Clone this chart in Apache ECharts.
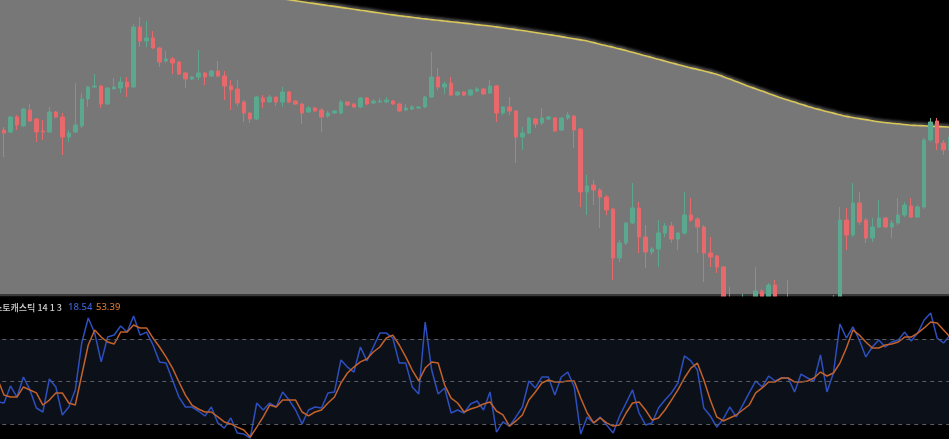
<!DOCTYPE html>
<html>
<head>
<meta charset="utf-8">
<script src="https://cdn.jsdelivr.net/npm/echarts@6/dist/echarts.min.js"></script>
<style>
html,body{margin:0;padding:0;background:#000;}
#c{width:949px;height:439px;}
</style>
</head>
<body>
<div id="c"></div>
<script>
// candles: [open, close, low, high]
const candles = [
[172,169,165,176],
[170,167,143,173],[168,183,167,184],[183,175,170,185],[174,191,173,192],[190,179,178,196],
[181,168,158,182],[169,168,160,180],[168,188,167,193],[188,183,182,189],[183,163,145,187],
[163,167,158,170],[168,175,167,217],[174,201,172,207],[201,213,193,214],[213,214,212,226],
[214,196,192,215],[196,212,195,213],[211,213,211,222],[212,218,207,223],[218,213,203,223],
[213,273,212,276],[273,259,253,283],[259,262,253,279],[262,252,251,269],[252,238,233,253],
[239,241,237,249],[241,237,226,243],[238,226,225,239],[227,221,212,228],[221,223,220,224],
[223,227,220,250],[227,223,215,228],[224,229,223,230],[229,224,223,239],[224,214,200,229],
[214,210,190,220],[211,197,194,220],[198,187,178,200],[187,181,177,188],[181,203,180,204],
[202,198,192,205],[198,203,197,205],[203,198,194,203],[198,208,193,213],[208,198,197,209],
[199,196,195,200],[196,187,176,197],[188,192,187,194],[192,189,188,193],[190,183,168,192],
[184,187,182,189],[187,189,186,190],[187,198,186,200],[198,195,194,199],[196,193,192,197],
[193,202,192,203],[202,196,195,203],[197,199,196,201],[198,199,197,202],[198,200,197,203],
[199,196,195,200],[196,189,188,197],[190,192,189,196],[191,193,190,195],[192,193,191,194],
[193,203,192,204],[203,223,202,248],[223,213,210,232],[213,216,206,218],[217,205,204,223],
[205,208,204,209],[208,205,204,209],[205,210,204,211],[209,211,208,213],[211,206,205,212],
[207,214,206,220],[214,187,178,215],[187,193,185,194],[193,189,185,203],[189,163,137,190],
[163,167,150,173],[167,182,166,183],[181,176,172,182],[177,182,175,192],[181,183,180,184],
[182,169,168,183],[170,182,169,183],[182,185,180,188],[184,170,152,185],[171,108,93,172],
[108,114,85,125],[115,110,95,120],[110,103,72,112],[103,90,85,105],[91,42,20,92],
[42,57,38,60],[57,77,55,78],[77,92,76,117],[92,63,47,98],[63,48,32,75],
[48,51,45,53],[51,67,33,80],[67,74,63,77],[74,61,57,78],[61,67,50,68],
[67,85,65,108],[85,80,78,102],[81,73,47,83],[73,47,18,75],[47,43,33,63],
[44,33,27,45],[33,-10,-10,34],[-5,0,-10,13],[0,-10,-10,3],[-8,-4,-10,6],
[-4,-9,-10,3],[-8,9,-10,33],[9,0,-5,11],[0,15,-4,17],[15,0,-5,20],
[0,-8,-10,2],[2,-8,-10,20],[-8,-4,-10,0],[-4,-9,-10,-1],[-9,-5,-10,-3],
[-5,-9,-10,-4],[-9,-6,-10,-5],[-6,-9,-10,-5],[-9,-4,-10,5],[-10,80,-10,93],
[80,65,50,92],[65,97,63,117],[97,78,75,108],[80,62,57,82],[62,73,58,82],
[73,82,72,100],[82,73,72,83],[73,77,62,80],[77,85,75,102],[85,95,83,98],
[94,83,82,102],[83,93,82,95],[93,160,91,162],[160,178,158,182],[179,157,150,182],
[157,150,145,160],[150,163,148,165]
];

// long moving average (yellow line)
const maLine = [
346.5,345.8,344.8,343.7,342.7,341.7,340.6,339.6,338.6,337.5,336.5,
335.4,334.4,333.4,332.3,331.3,330.2,329.2,328.2,327.1,326.1,
325.0,324.0,323.0,321.9,320.9,319.8,318.8,317.8,316.7,315.7,
314.7,313.6,312.6,311.6,310.5,309.5,308.5,307.4,306.4,305.3,
304.3,303.3,302.2,301.2,300.2,299.2,298.3,297.3,296.4,295.4,
294.5,293.6,292.6,291.7,290.7,289.8,288.9,287.9,287.0,286.0,
285.1,284.3,283.5,282.7,281.9,281.1,280.4,279.7,279.0,278.3,
277.6,276.9,276.2,275.4,274.7,274.0,273.1,272.2,271.3,270.4,
269.5,268.5,267.5,266.5,265.5,264.5,263.4,262.3,261.2,260.1,
259.0,257.4,255.8,254.3,252.7,251.1,249.4,247.7,246.0,244.2,
242.5,240.7,239.0,237.2,235.5,233.7,232.1,230.6,229.0,227.4,
225.8,223.3,220.9,218.4,216.0,213.5,211.2,208.9,206.5,204.2,
201.9,199.9,197.9,195.8,193.8,191.8,190.2,188.5,186.9,185.2,
183.6,182.5,181.4,180.4,179.3,178.2,177.5,176.8,176.2,175.5,
174.8,174.5,174.2,173.8,173.5,173.2,173.0
];

// stochastic %K (blue)
const stochK = [
36,35.0,47.0,39.2,53.3,44.2,31.5,28.7,51.9,46.3,
26.6,32.2,44.2,77.2,94.8,84.2,63.9,81.4,82.8,89.2,
84.9,96.2,82.8,84.9,75.8,63.9,63.1,51.2,39.2,32.2,
32.2,29.4,25.9,32.2,21.0,17.4,24.5,13.9,13.2,10.4,
35.0,30.1,35.0,32.2,42.8,37.1,30.1,20.3,30.1,32.2,
31.5,42.1,42.8,65.3,60.3,56.8,74.4,64.6,74.4,84.2,
84.2,80.7,63.1,63.1,46.3,41.4,92.0,58.2,41.4,45.6,
28.0,30.1,28.0,34.3,36.4,30.1,42.8,14.6,21.7,18.8,
25.2,32.2,50.5,45.6,53.3,53.3,40.6,53.3,56.8,46.3,
13.2,25.2,21.0,25.2,19.6,13.9,25.9,35.0,44.2,28.0,
19.6,21.0,31.5,37.1,42.1,49.1,68.1,64.6,58.2,31.5,
25.9,18.1,23.8,32.2,25.2,33.6,42.1,50.5,46.3,54.0,
50.5,52.6,52.6,42.8,55.4,52.6,50.5,68.8,42.8,56.1,
90.6,80.7,88.5,79.3,67.4,74.4,79.3,74.4,77.9,79.3,
84.9,78.6,84.2,93.4,98.3,80.7,77.2,82.8
];

// stochastic %D (orange)
const stochD = [
52,
40.6,39.2,39.2,46.3,44.2,42.1,33.6,37.1,42.1,42.1,
35.0,33.6,54.7,75.8,86.4,81.4,77.9,76.5,84.9,84.9,
89.9,87.8,87.8,80.7,74.4,67.4,59.6,49.8,40.6,33.6,
30.8,28.7,28.7,25.2,21.7,20.3,18.1,16.0,11.1,18.1,
25.2,33.6,32.2,37.1,37.1,37.1,28.7,25.9,28.7,30.1,
35.0,39.2,49.1,56.1,60.3,63.9,66.0,70.9,74.4,80.7,
82.8,75.8,67.4,58.2,50.5,59.6,63.9,63.1,47.7,38.5,
35.0,28.7,30.8,32.2,34.3,35.7,29.4,26.6,18.8,22.4,
26.6,37.1,42.8,49.1,51.2,49.8,49.8,50.5,50.5,38.5,
28.0,21.0,24.5,21.0,18.8,19.6,28.0,35.0,35.7,30.1,
23.1,24.5,30.1,37.1,44.2,52.6,59.6,63.1,51.2,37.1,
25.2,22.4,24.5,26.6,30.1,33.6,42.1,45.6,49.8,49.8,
52.6,52.6,49.8,49.8,50.5,52.6,56.8,54.0,56.1,63.1,
73.7,86.4,82.8,77.9,73.7,73.7,75.8,76.5,77.9,81.4,
81.4,84.2,87.8,92.0,91.3,86.4,81.4
];

const stochLevels = [80, 50, 20];
const stochLabel = '스토캐스틱 14 1 3';
const stochKText = '18.54';
const stochDText = '53.39';

const categories = candles.map((_, i) => String(i));

const chart = echarts.init(document.getElementById('c'), null, {renderer: 'canvas'});
const hidden = {show: false};
const gridLeft = -5.72, gridWidth = 959.04;

chart.setOption({
  animation: false,
  backgroundColor: '#000000',
  grid: [
    {left: gridLeft, width: gridWidth, top: 0, height: 295, outerBoundsMode: 'none', containLabel: false},
    {left: gridLeft, width: gridWidth, top: 310.6, height: 142.2, outerBoundsMode: 'none', containLabel: false}
  ],
  xAxis: [
    {type: 'category', gridIndex: 0, data: categories, axisLine: hidden, axisTick: hidden, axisLabel: hidden, splitLine: hidden},
    {type: 'category', gridIndex: 1, data: categories, axisLine: hidden, axisTick: hidden, axisLabel: hidden, splitLine: hidden}
  ],
  yAxis: [
    {type: 'value', gridIndex: 0, min: 5, max: 300, axisLine: hidden, axisTick: hidden, axisLabel: hidden, splitLine: hidden},
    {type: 'value', gridIndex: 1, min: 0, max: 100, axisLine: hidden, axisTick: hidden, axisLabel: hidden, splitLine: hidden}
  ],
  series: [
    {
      type: 'line', xAxisIndex: 0, yAxisIndex: 0, data: maLine,
      symbol: 'none', smooth: true, clip: true, z: 1,
      lineStyle: {color: '#d9c75a', width: 1.6, shadowColor: 'rgba(170,170,170,0.9)', shadowBlur: 3, shadowOffsetY: -1.5},
      areaStyle: {color: '#777777', opacity: 1, origin: 'start'}
    },
    {
      type: 'candlestick', xAxisIndex: 0, yAxisIndex: 0, data: candles,
      barWidth: 4, clip: true, z: 3,
      itemStyle: {color: '#5ba88f', color0: '#e8696b', borderColor: '#5ba88f', borderColor0: '#e8696b', borderWidth: 1}
    },
    {
      type: 'line', xAxisIndex: 1, yAxisIndex: 1, data: stochK,
      symbol: 'none', clip: true, z: 3,
      lineStyle: {color: '#2d4fc0', width: 1.5},
      markArea: {silent: true, itemStyle: {color: '#0c1119'}, data: [[{yAxis: stochLevels[2]}, {yAxis: stochLevels[0]}]]},
      markLine: {
        silent: true, symbol: 'none', label: {show: false},
        lineStyle: {color: '#5a5d63', type: [4, 4], width: 1},
        data: stochLevels.map(v => ({yAxis: v}))
      }
    },
    {
      type: 'line', xAxisIndex: 1, yAxisIndex: 1, data: stochD,
      symbol: 'none', clip: true, z: 4,
      lineStyle: {color: '#c3622b', width: 1.5}
    }
  ],
  graphic: [
    {type: 'rect', shape: {x: 0, y: 294, width: 949, height: 2.5}, style: {fill: '#3a3a3a'}, z: 2},
    {type: 'rect', shape: {x: 0, y: 296.5, width: 949, height: 15}, style: {fill: '#000000'}, z: 100},
    {type: 'text', x: 62, y: 307.5, style: {text: stochLabel, fill: '#cfcfcf', font: '500 9px "Noto Sans CJK KR", sans-serif', textAlign: 'right', textVerticalAlign: 'middle'}, z: 110},
    {type: 'text', x: 68, y: 307.5, style: {text: stochKText, fill: '#3a5fd0', font: '500 9.5px "Noto Sans", sans-serif', textAlign: 'left', textVerticalAlign: 'middle'}, z: 110},
    {type: 'text', x: 96, y: 307.5, style: {text: stochDText, fill: '#d0702c', font: '500 9.5px "Noto Sans", sans-serif', textAlign: 'left', textVerticalAlign: 'middle'}, z: 110}
  ]
});
</script>
</body>
</html>
